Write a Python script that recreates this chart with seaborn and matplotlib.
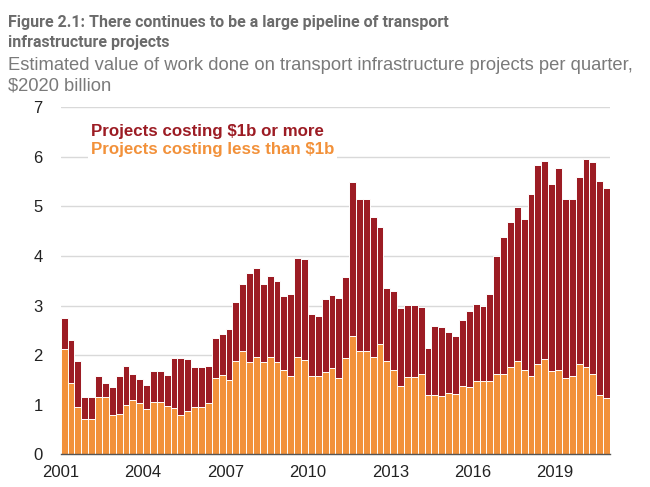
import matplotlib
matplotlib.use("Agg")
import matplotlib.pyplot as plt
import seaborn as sns
import pandas as pd
import numpy as np

years = list(range(2001, 2021))
quarters = [f"{y}Q{q}" for y in years for q in range(1, 5)]

# value of work done, $2020 billion per quarter
under_1b = [2.12, 1.43, 0.96, 0.71, 0.71, 1.16, 1.16, 0.79, 0.81, 0.99,
            1.10, 1.04, 0.91, 1.06, 1.06, 0.97, 0.93, 0.79, 0.88, 0.96,
            0.96, 1.04, 1.53, 1.60, 1.50, 1.88, 2.09, 1.86, 1.96, 1.87,
            1.97, 1.87, 1.71, 1.57, 1.97, 1.90, 1.58, 1.58, 1.67, 1.75,
            1.53, 1.94, 2.39, 2.09, 2.09, 1.97, 2.22, 1.88, 1.70, 1.38,
            1.55, 1.55, 1.63, 1.20, 1.20, 1.18, 1.23, 1.21, 1.38, 1.35,
            1.48, 1.48, 1.48, 1.62, 1.62, 1.77, 1.89, 1.71, 1.58, 1.83,
            1.92, 1.68, 1.70, 1.53, 1.58, 1.83, 1.77, 1.63, 1.20, 1.14]
total = [2.74, 2.31, 1.88, 1.15, 1.15, 1.58, 1.43, 1.36, 1.57, 1.78,
         1.62, 1.52, 1.40, 1.68, 1.68, 1.60, 1.94, 1.94, 1.92, 1.77,
         1.77, 1.79, 2.35, 2.42, 2.53, 3.07, 3.43, 3.66, 3.75, 3.43,
         3.60, 3.50, 3.19, 3.23, 3.97, 3.93, 2.83, 2.80, 3.14, 3.21,
         3.15, 3.57, 5.50, 5.15, 5.15, 4.78, 4.59, 3.35, 3.29, 2.96,
         3.01, 3.01, 2.98, 2.14, 2.59, 2.57, 2.47, 2.39, 2.71, 2.89,
         3.04, 2.99, 3.23, 4.00, 4.38, 4.68, 4.99, 4.74, 5.25, 5.83,
         5.91, 5.46, 5.77, 5.16, 5.14, 5.60, 5.95, 5.89, 5.52, 5.38]
tick_years = [2001, 2004, 2007, 2010, 2013, 2016, 2019]

red = "#9c1c24"
orange = "#f2913a"

df = pd.DataFrame({"quarter": quarters, "small": under_1b, "total": total})

sns.set_style("white")
plt.rcParams["font.family"] = ["Liberation Sans", "DejaVu Sans"]

fig = plt.figure(figsize=(6.5, 4.87), dpi=100)
ax = fig.add_axes([0.0934, 0.0671, 0.8451, 0.7126])

# stacked bars: draw the total in red, then the small projects on top in orange
sns.barplot(data=df, x="quarter", y="total", color=red, width=1.0,
            edgecolor="white", linewidth=0.7, saturation=1, ax=ax, zorder=2)
sns.barplot(data=df, x="quarter", y="small", color=orange, width=1.0,
            edgecolor="white", linewidth=0.7, saturation=1, ax=ax, zorder=3)

ax.set_xlim(-0.5, len(quarters) - 0.5)
ax.set_ylim(0, 7)
ax.set_yticks(range(0, 8))
ax.yaxis.grid(True, color="#d9d9d9", linewidth=1, zorder=0)
ax.set_axisbelow(True)

tick_pos = [quarters.index(f"{y}Q1") - 0.5 for y in tick_years]
ax.set_xticks(tick_pos)
ax.set_xticklabels([str(y) for y in tick_years])
ax.set_xlabel("")
ax.set_ylabel("")

for s in ["top", "right", "left"]:
    ax.spines[s].set_visible(False)
ax.spines["bottom"].set_color("#555555")
ax.spines["bottom"].set_linewidth(1)
ax.spines["bottom"].set_zorder(5)
ax.tick_params(axis="x", length=5, width=1, color="#555555", labelsize=12,
               labelcolor="#222222", pad=3)
ax.tick_params(axis="y", length=0, labelsize=12, labelcolor="#222222", pad=13)

# legend written as coloured text
ax.text(0.055, 0.917, "Projects costing $1b or more", transform=ax.transAxes,
        color=red, fontsize=12.2, fontweight="bold", va="baseline",
        zorder=6)
ax.text(0.055, 0.865, "Projects costing less than $1b", transform=ax.transAxes,
        color=orange, fontsize=12.2, fontweight="bold", va="baseline",
        bbox=dict(facecolor="white", edgecolor="none", pad=2), zorder=6)

title_font = ["Roboto", "Liberation Sans", "DejaVu Sans"]
sub_font = ["Liberation Sans", "DejaVu Sans"]
fig.text(8 / 650, 1 - 27 / 487,
         "Figure 2.1: There continues to be a large pipeline of transport",
         fontsize=11.5, fontweight="bold", color="#6b6b6b", family=title_font,
         va="baseline")
fig.text(8 / 650, 1 - 47 / 487, "infrastructure projects",
         fontsize=11.5, fontweight="bold", color="#6b6b6b", family=title_font,
         va="baseline")
fig.text(8 / 650, 1 - 70 / 487,
         "Estimated value of work done on transport infrastructure projects per quarter,",
         fontsize=13.2, color="#7a7a7a", family=sub_font, va="baseline")
fig.text(8 / 650, 1 - 90 / 487, "$2020 billion",
         fontsize=13.2, color="#7a7a7a", family=sub_font, va="baseline")

plt.savefig("out.png", dpi=100)
